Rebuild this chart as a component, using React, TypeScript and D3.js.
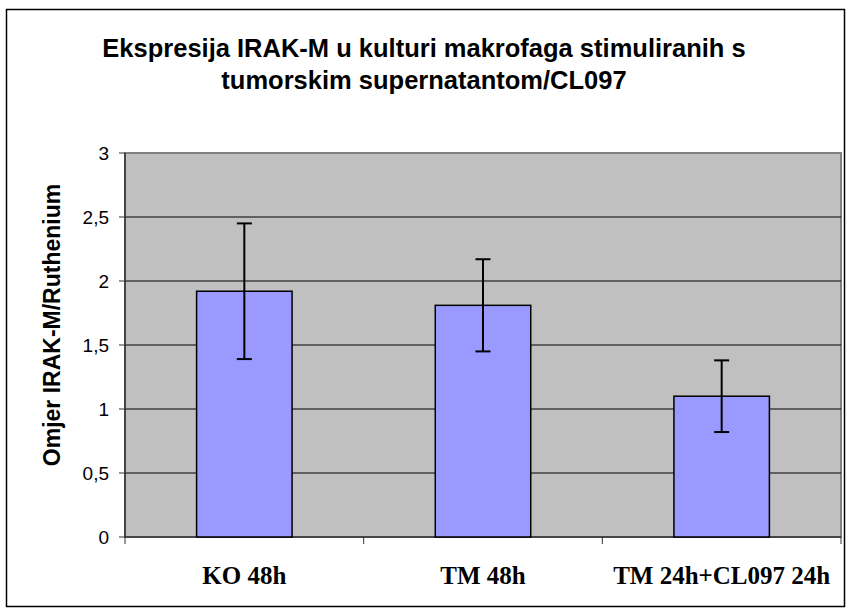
import React from "react";
import * as d3 from "d3";

const categories = ["KO 48h", "TM 48h", "TM 24h+CL097 24h"];
const values = [1.92, 1.81, 1.1];
const errors = [0.53, 0.36, 0.28];
const yTicks = [0, 0.5, 1, 1.5, 2, 2.5, 3];
const yTickLabels = ["0", "0,5", "1", "1,5", "2", "2,5", "3"];
const titleLines = [
  "Ekspresija IRAK-M u kulturi makrofaga stimuliranih s",
  "tumorskim supernatantom/CL097",
];
const yAxisTitle = "Omjer IRAK-M/Ruthenium";

const W = 848;
const H = 612;
const left = 125;
const right = 841;
const top = 153;
const bottom = 537;

export default function App() {
  const x = d3.scaleBand<string>().domain(categories).range([left, right]).padding(0);
  const y = d3.scaleLinear().domain([0, 3]).range([bottom, top]);
  const barW = x.bandwidth() / 2.5;
  const bounds = [left, ...categories.map((c) => (x(c) as number) + x.bandwidth())];

  return (
    <svg
      width={W}
      height={H}
      style={{ position: "absolute", left: 0, top: 0 }}
      xmlns="http://www.w3.org/2000/svg"
    >
      <rect x={0} y={0} width={W} height={H} fill="#ffffff" />
      <rect x={6.5} y={9.5} width={838} height={597} fill="#ffffff" stroke="#000" strokeWidth={1.5} />
      {titleLines.map((t, i) => (
        <text
          key={i}
          x={424}
          y={57 + i * 32}
          textAnchor="middle"
          fontFamily="Liberation Sans, Arial, sans-serif"
          fontWeight="bold"
          fontSize={25.5}
          fill="#000"
        >
          {t}
        </text>
      ))}
      <rect x={left} y={top} width={right - left} height={bottom - top} fill="#C0C0C0" stroke="#808080" strokeWidth={2} />
      {yTicks.slice(1, -1).map((t) => (
        <line key={t} x1={left} x2={right} y1={y(t)} y2={y(t)} stroke="#000" strokeWidth={1} />
      ))}
      {/* axes */}
      <line x1={left} x2={left} y1={top} y2={bottom} stroke="#333" strokeWidth={1.5} />
      <line x1={left} x2={right} y1={bottom} y2={bottom} stroke="#333" strokeWidth={1.5} />
      {yTicks.map((t, i) => (
        <g key={t}>
          <line x1={left - 6} x2={left} y1={y(t)} y2={y(t)} stroke="#333" strokeWidth={1} />
          <text
            x={109}
            y={y(t)}
            dy="0.36em"
            textAnchor="end"
            fontFamily="Liberation Sans, Arial, sans-serif"
            fontSize={19}
            fill="#000"
          >
            {yTickLabels[i]}
          </text>
        </g>
      ))}
      {bounds.map((b, i) => (
        <line key={i} x1={b} x2={b} y1={bottom} y2={bottom + 7} stroke="#333" strokeWidth={1} />
      ))}
      {categories.map((c, i) => {
        const cx = (x(c) as number) + x.bandwidth() / 2;
        return (
          <g key={c}>
            <rect
              x={cx - barW / 2}
              y={y(values[i])}
              width={barW}
              height={bottom - y(values[i])}
              fill="#9999FF"
              stroke="#000"
              strokeWidth={1.5}
            />
            <line x1={cx} x2={cx} y1={y(values[i] + errors[i])} y2={y(values[i] - errors[i])} stroke="#000" strokeWidth={2} />
            <line x1={cx - 7.5} x2={cx + 7.5} y1={y(values[i] + errors[i])} y2={y(values[i] + errors[i])} stroke="#000" strokeWidth={2} />
            <line x1={cx - 7.5} x2={cx + 7.5} y1={y(values[i] - errors[i])} y2={y(values[i] - errors[i])} stroke="#000" strokeWidth={2} />
            <text
              x={cx}
              y={584}
              textAnchor="middle"
              fontFamily="Liberation Serif, Times New Roman, serif"
              fontWeight="bold"
              fontSize={25}
              fill="#000"
            >
              {c}
            </text>
          </g>
        );
      })}
      <text
        transform={`translate(60, 325) rotate(-90)`}
        textAnchor="middle"
        fontFamily="Liberation Sans, Arial, sans-serif"
        fontWeight="bold"
        fontSize={23}
        fill="#000"
      >
        {yAxisTitle}
      </text>
    </svg>
  );
}
